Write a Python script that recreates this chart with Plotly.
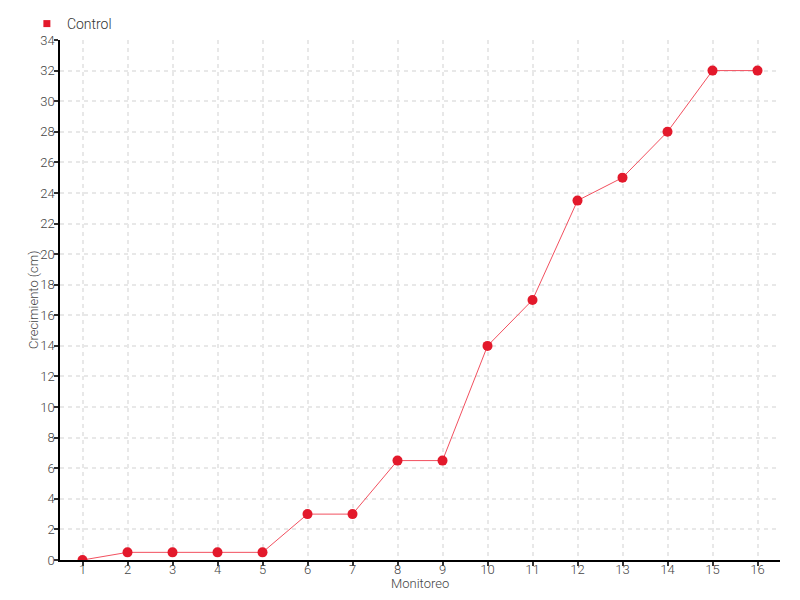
import plotly.graph_objects as go

monitoreo = list(range(1, 17))
control = [0, 0.5, 0.5, 0.5, 0.5, 3, 3, 6.5, 6.5, 14, 17, 23.5, 25, 28, 32, 32]
y_ticks = list(range(0, 35, 2))

FONT = "Roboto, sans-serif"

fig = go.Figure()
fig.add_trace(go.Scatter(
    x=monitoreo, y=control, mode="lines+markers", name="Control",
    line=dict(color="#f2505f", width=1),
    marker=dict(color="#e3192b", size=10),
    showlegend=False,
))
# legend entry (square symbol, as in the reference)
fig.add_trace(go.Scatter(
    x=[None], y=[None], mode="markers", name="Control",
    marker=dict(color="#e3192b", symbol="square", size=7),
    showlegend=True,
))

# the page adds an 8px body margin, so the figure is 8px smaller
fig.update_layout(
    width=792, height=592,
    paper_bgcolor="white", plot_bgcolor="white",
    margin=dict(l=52, r=20, t=32, b=40, autoexpand=False),
    font=dict(family=FONT, size=13, color="#444", weight=300),
    showlegend=True,
    legend=dict(x=-0.046, y=1.0, xanchor="left", yanchor="bottom",
                orientation="h", font=dict(size=14, color="#333", weight=300),
                itemwidth=30, bgcolor="rgba(0,0,0,0)"),
    xaxis=dict(
        range=[0.5, 16.5], tickmode="array", tickvals=monitoreo,
        ticktext=[str(v) for v in monitoreo],
        showline=True, linecolor="black", linewidth=1.5,
        ticks="outside", ticklen=4, tickcolor="#333", tickwidth=1.5,
        showgrid=True, gridcolor="#e8e8e8", griddash="4px,4px", gridwidth=2,
        zeroline=False, automargin=False, ticklabelstandoff=-7,
        tickfont=dict(size=13),
    ),
    yaxis=dict(
        range=[0, 34], tickmode="array", tickvals=y_ticks,
        showline=True, linecolor="black", linewidth=1.5,
        ticks="outside", ticklen=4, tickcolor="#333", tickwidth=1.5,
        showgrid=True, gridcolor="#e8e8e8", griddash="4px,4px", gridwidth=2,
        zeroline=False, automargin=False, ticklabelstandoff=-3,
        tickfont=dict(size=13),
    ),
    annotations=[
        dict(text="Monitoreo", xref="paper", yref="paper", x=0.5, y=-0.0445,
             xanchor="center", yanchor="middle", showarrow=False,
             font=dict(size=13, color="#444")),
        dict(text="Crecimiento (cm)", xref="paper", yref="paper", x=-0.0375,
             y=0.5, xanchor="center", yanchor="middle", textangle=-90,
             showarrow=False, font=dict(size=13, color="#444")),
    ],
)

fig.write_html("out.html")
